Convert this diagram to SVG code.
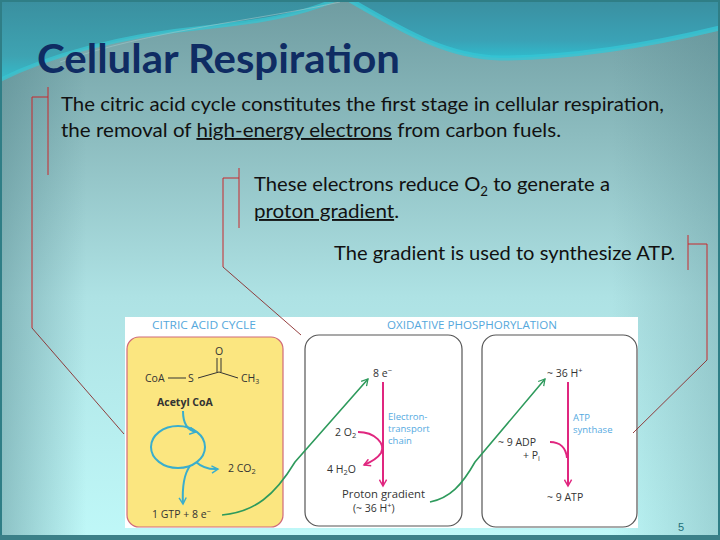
<svg xmlns="http://www.w3.org/2000/svg" width="720" height="540" viewBox="0 0 720 540">
<defs>
<linearGradient id="bg" x1="0" y1="0" x2="0" y2="1">
<stop offset="0" stop-color="#6f9ca1"/>
<stop offset="0.25" stop-color="#8cbcbf"/>
<stop offset="0.55" stop-color="#aee2e4"/>
<stop offset="1" stop-color="#bff8f8"/>
</linearGradient>
<linearGradient id="side" x1="0" y1="0" x2="1" y2="0">
<stop offset="0" stop-color="#4d7f86" stop-opacity="0.45"/>
<stop offset="0.12" stop-color="#4d7f86" stop-opacity="0"/>
<stop offset="0.85" stop-color="#4d7f86" stop-opacity="0"/>
<stop offset="1" stop-color="#4d7f86" stop-opacity="0.3"/>
</linearGradient>
<linearGradient id="tealL" x1="0" y1="0" x2="0" y2="1">
<stop offset="0" stop-color="#3a8f9f"/>
<stop offset="0.7" stop-color="#3ea3b2"/>
<stop offset="1" stop-color="#34bccb"/>
</linearGradient>
<linearGradient id="tealR" x1="0" y1="0" x2="0" y2="1">
<stop offset="0" stop-color="#3a8fa0"/>
<stop offset="0.7" stop-color="#3aa2b6"/>
<stop offset="1" stop-color="#2fbccd"/>
</linearGradient>
<marker id="ahg" viewBox="0 0 10 10" refX="8" refY="5" markerWidth="9" markerHeight="9" orient="auto" markerUnits="userSpaceOnUse">
<path d="M1,1 L8,5 L1,9" fill="none" stroke="#2e9a5c" stroke-width="1.4"/>
</marker>
<marker id="ahm" viewBox="0 0 10 10" refX="8" refY="5" markerWidth="9" markerHeight="9" orient="auto" markerUnits="userSpaceOnUse">
<path d="M1,1 L8,5 L1,9" fill="none" stroke="#e0267f" stroke-width="1.6"/>
</marker>
<marker id="ahb" viewBox="0 0 10 10" refX="8" refY="5" markerWidth="9" markerHeight="9" orient="auto" markerUnits="userSpaceOnUse">
<path d="M1,1 L8,5 L1,9" fill="none" stroke="#3aaecd" stroke-width="1.6"/>
</marker>
<style>
.main{font-family:Lato,"Open Sans","Liberation Sans",sans-serif;font-size:19px;fill:#111}
.title{font-family:Lato,"Open Sans","Liberation Sans",sans-serif;font-size:40px;font-weight:bold;fill:#0f2c63}
.fig{font-family:"Open Sans","Liberation Sans",sans-serif;font-size:10.5px;fill:#333}
.blue{fill:#55aadf;font-size:9.5px}
.hdr{font-family:"Open Sans","Liberation Sans",sans-serif;font-size:10px;fill:#55a8dc}
.red{fill:none;stroke:#c8282d;stroke-width:1}
.dia{fill:none;stroke:#8a2a2a;stroke-width:0.9}
.mag{fill:none;stroke:#e0267f;stroke-width:2}
.grn{fill:none;stroke:#2e9a5c;stroke-width:1.6}
.cyc{fill:none;stroke:#3aaecd;stroke-width:2}
.bond{stroke:#333;stroke-width:1;fill:none}
.box{fill:#fff;stroke:#555;stroke-width:1.2}
</style>
</defs>
<g id="background">
<rect width="720" height="540" fill="url(#bg)"/>
<rect width="720" height="540" fill="url(#side)"/>
<path d="M0,0 H335 C300,15 260,22 200,28 C120,36 50,55 0,80 Z" fill="url(#tealL)"/>
<path d="M0,80 C50,55 120,36 200,28 C260,22 300,15 335,0" fill="none" stroke="#39c3cf" stroke-width="4" opacity="0.8"/>
<path d="M350,0 H720 V28 C650,45 570,58 500,58 C450,57 410,35 350,0 Z" fill="url(#tealR)"/>
<path d="M350,0 C410,35 450,57 500,58 C570,58 650,45 720,28" fill="none" stroke="#36c6d4" stroke-width="5" opacity="0.8"/>
<path d="M60,62 C150,30 260,20 340,2" fill="none" stroke="#9fc6c8" stroke-width="1" opacity="0.6"/>
<rect x="1" y="1" width="718" height="538" fill="none" stroke="#2f7e86" stroke-width="2"/>
<rect x="0" y="535" width="720" height="5" fill="#3b8088"/>
</g>
<g id="title"><text class="title" x="37" y="73" textLength="363" lengthAdjust="spacingAndGlyphs">Cellular Respiration</text></g>
<g id="text1">
<text class="main" x="61" y="111" textLength="603" lengthAdjust="spacingAndGlyphs">The citric acid cycle constitutes the first stage in cellular respiration,</text>
<text class="main" x="61" y="137" textLength="500" lengthAdjust="spacingAndGlyphs">the removal of <tspan text-decoration="underline">high-energy electrons</tspan> from carbon fuels.</text>
</g>
<g id="text2">
<text class="main" x="254" y="191" textLength="356" lengthAdjust="spacingAndGlyphs">These electrons reduce O<tspan font-size="12.5" dy="5">2</tspan><tspan dy="-5"> to generate a</tspan></text>
<text class="main" x="254" y="218" textLength="145" lengthAdjust="spacingAndGlyphs"><tspan text-decoration="underline">proton gradient</tspan>.</text>
</g>
<g id="text3"><text class="main" x="334" y="260" textLength="341" lengthAdjust="spacingAndGlyphs">The gradient is used to synthesize ATP.</text></g>
<g id="figure">
<rect x="125" y="317" width="513" height="211" fill="#fff"/>
<text class="hdr" x="152" y="329" textLength="104" lengthAdjust="spacingAndGlyphs">CITRIC ACID CYCLE</text>
<text class="hdr" x="387" y="329" textLength="170" lengthAdjust="spacingAndGlyphs">OXIDATIVE PHOSPHORYLATION</text>
</g>
<g id="citric-acid-cycle">
<rect x="127" y="337" width="156" height="190" rx="12" fill="#fbe680" stroke="#d06a7a" stroke-width="1.2"/>
<text class="fig" x="145" y="382">CoA</text>
<line class="bond" x1="168" y1="378" x2="186" y2="378"/>
<text class="fig" x="188" y="382">S</text>
<line class="bond" x1="198" y1="378" x2="219" y2="372"/>
<line class="bond" x1="217" y1="358" x2="217" y2="372"/>
<line class="bond" x1="221" y1="358" x2="221" y2="372"/>
<text class="fig" x="219" y="355" text-anchor="middle">O</text>
<line class="bond" x1="219" y1="372" x2="238" y2="378"/>
<text class="fig" x="241" y="382">CH<tspan font-size="7" dy="2">3</tspan></text>
<text class="fig" x="157" y="406" font-weight="bold" font-size="9.5">Acetyl CoA</text>
<path class="cyc" d="M183,411 C183,422 186,430 196,432" marker-end="url(#ahb)"/>
<ellipse class="cyc" cx="178" cy="447" rx="27" ry="21"/>
<path class="cyc" d="M196,462 Q205,470 218,469" marker-end="url(#ahb)"/>
<path class="cyc" d="M190,466 C184,474 182,486 183,504" marker-end="url(#ahb)"/>
<text class="fig" x="228" y="472">2 CO<tspan font-size="7.5" dy="2">2</tspan></text>
<text class="fig" x="152" y="518">1 GTP + 8 e<tspan font-size="7.5" dy="-4">−</tspan></text>
</g>
<g id="electron-transport">
<rect class="box" x="305" y="335" width="157" height="191" rx="14"/>
<text class="fig" x="373" y="377">8 e<tspan font-size="7.5" dy="-4">−</tspan></text>
<line class="mag" x1="383" y1="382" x2="383" y2="486" marker-end="url(#ahm)"/>
<text class="fig blue" x="388" y="420">Electron-</text>
<text class="fig blue" x="388" y="432">transport</text>
<text class="fig blue" x="388" y="444">chain</text>
<text class="fig" x="335" y="436">2 O<tspan font-size="7.5" dy="2">2</tspan></text>
<path class="mag" d="M358,432 C375,432 386,444 381,453 C377,459 371,462 364,465" marker-end="url(#ahm)"/>
<text class="fig" x="327" y="473">4 H<tspan font-size="7.5" dy="2">2</tspan><tspan dy="-2">O</tspan></text>
<text class="fig" x="342" y="498" textLength="83" lengthAdjust="spacingAndGlyphs">Proton gradient</text>
<text class="fig" x="353" y="512">(~ 36 H<tspan font-size="7.5" dy="-4">+</tspan><tspan dy="4">)</tspan></text>
</g>
<g id="atp-synthase">
<rect class="box" x="482" y="335" width="155" height="192" rx="14"/>
<text class="fig" x="547" y="377">~ 36 H<tspan font-size="7.5" dy="-4">+</tspan></text>
<line class="mag" x1="568" y1="382" x2="568" y2="486" marker-end="url(#ahm)"/>
<text class="fig blue" x="573" y="421">ATP</text>
<text class="fig blue" x="573" y="433">synthase</text>
<text class="fig" x="498" y="446">~ 9 ADP</text>
<text class="fig" x="523" y="459">+ P<tspan font-size="7.5" dy="2">i</tspan></text>
<path class="mag" d="M550,442 C560,442 566,448 567,458"/>
<text class="fig" x="547" y="501">~ 9 ATP</text>
</g>
<g id="connectors">
<path class="grn" d="M222,515 C255,512 275,495 295,462 L368,379" marker-end="url(#ahg)"/>
<path class="grn" d="M430,502 C450,498 462,485 475,462 L545,379" marker-end="url(#ahg)"/>
<path class="red" d="M48,87 V175 M48,97 H32 V328"/>
<path class="dia" d="M32,328 L124,434"/>
<path class="red" d="M239,168 V228 M239,178 H223 V267"/>
<path class="dia" d="M223,267 L301,335"/>
<path class="red" d="M688,235 V270 M688,244 H707 V360"/>
<path class="dia" d="M707,360 L633,433"/>
</g>
<g id="page-number"><text x="678" y="531" font-family="'Liberation Sans',sans-serif" font-size="11" fill="#1f6f78">5</text></g>
</svg>
